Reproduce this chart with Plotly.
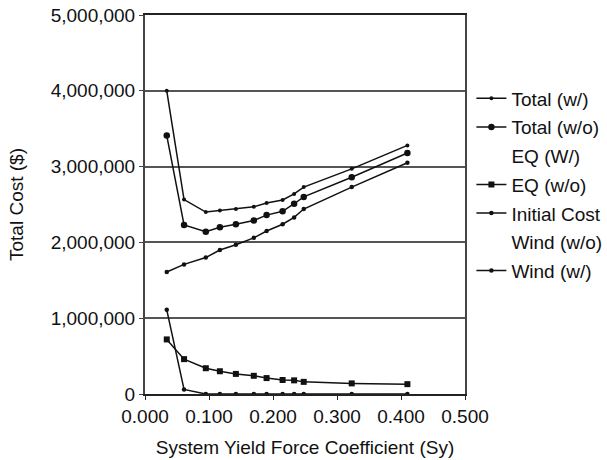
import plotly.graph_objects as go

sy = [0.034, 0.061, 0.095, 0.117, 0.142, 0.170, 0.190, 0.215, 0.233, 0.248, 0.323, 0.410]

total_w = [4000000, 2565000, 2400000, 2420000, 2440000, 2470000, 2520000, 2560000, 2640000, 2730000, 2970000, 3280000]
total_wo = [3410000, 2230000, 2140000, 2200000, 2240000, 2290000, 2360000, 2410000, 2510000, 2600000, 2860000, 3180000]
eq_w = [None]
eq_wo = [720000, 460000, 340000, 300000, 265000, 240000, 210000, 185000, 180000, 160000, 140000, 130000]
initial_cost = [1610000, 1710000, 1800000, 1900000, 1970000, 2060000, 2150000, 2240000, 2330000, 2440000, 2730000, 3050000]
wind_wo = [None]
wind_w = [1110000, 60000, 0, 0, 0, 0, 0, 0, 0, 0, 0, 0]

y_ticks = [0, 1000000, 2000000, 3000000, 4000000, 5000000]
y_ticktext = ["0", "1,000,000", "2,000,000", "3,000,000", "4,000,000", "5,000,000"]
x_ticks = [0.0, 0.1, 0.2, 0.3, 0.4, 0.5]
x_ticktext = ["0.000", "0.100", "0.200", "0.300", "0.400", "0.500"]

FONT = "Liberation Sans, Arial, Helvetica, sans-serif"
BLACK = "#111111"
FS = 19

series = [
    ("Total (w/)", sy, total_w, 4, "circle", BLACK),
    ("Total (w/o)", sy, total_wo, 6.5, "circle", BLACK),
    ("EQ (W/)", [None], eq_w, 4, "circle", "rgba(0,0,0,0)"),
    ("EQ (w/o)", sy, eq_wo, 6, "square", BLACK),
    ("Initial Cost", sy, initial_cost, 4.5, "circle", BLACK),
    ("Wind (w/o)", [None], wind_wo, 4, "circle", "rgba(0,0,0,0)"),
    ("Wind (w/)", sy, wind_w, 4.5, "circle", BLACK),
]

fig = go.Figure()
for i, (name, xs, ys, msize, msym, col) in enumerate(series):
    fig.add_trace(go.Scatter(
        x=xs, y=ys, name=name, mode="lines+markers",
        line=dict(color=col, width=1.5),
        marker=dict(color=col, size=msize, symbol=msym),
        legendgroup=f"g{i}", showlegend=True,
    ))

fig.update_layout(
    width=607, height=460,
    margin=dict(l=145, r=142, t=15, b=66, autoexpand=False),
    paper_bgcolor="white", plot_bgcolor="white",
    font=dict(family=FONT, size=FS, color=BLACK),
    showlegend=True,
    legend=dict(
        x=1.02, xanchor="left", y=0.83, yanchor="top",
        font=dict(family=FONT, size=FS, color=BLACK),
        bgcolor="rgba(0,0,0,0)", tracegroupgap=1, traceorder="grouped",
        itemwidth=30,
    ),
    xaxis=dict(
        range=[0, 0.5], tickvals=x_ticks, ticktext=x_ticktext,
        showgrid=False, zeroline=False, automargin=False,
        showline=True, linecolor="#222222", linewidth=2, mirror=True,
        ticks="outside", ticklen=4, tickcolor="#222222",
        title=dict(text="System Yield Force Coefficient (Sy)",
                   font=dict(family=FONT, size=FS, color=BLACK)),
        tickfont=dict(family=FONT, size=FS, color=BLACK),
    ),
    yaxis=dict(
        range=[0, 5000000], tickvals=y_ticks, ticktext=y_ticktext,
        showgrid=True, gridcolor="#555555", gridwidth=1.5, zeroline=False,
        automargin=False,
        showline=True, linecolor="#444444", linewidth=2, mirror=True,
        ticks="outside", ticklen=4, tickcolor="#444444",
        title=dict(text="Total Cost ($)", standoff=22,
                   font=dict(family=FONT, size=FS, color=BLACK)),
        tickfont=dict(family=FONT, size=FS, color=BLACK),
    ),
)

fig.write_html("out.html", config={"displayModeBar": False},
               post_script="document.body.style.margin='0px';")
